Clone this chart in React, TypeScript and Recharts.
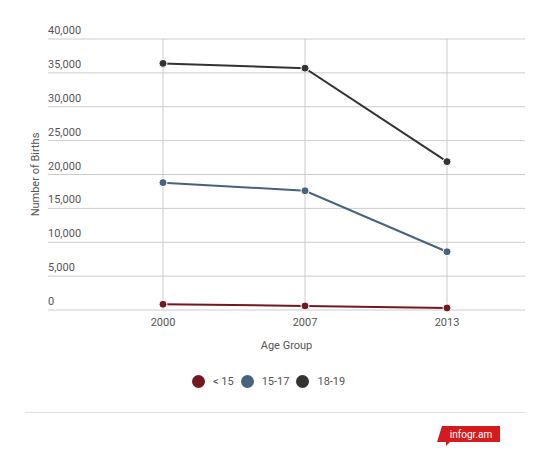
import React from 'react';
import { LineChart, Line, XAxis, YAxis, CartesianGrid, ReferenceLine } from 'recharts';

const years = ['2000', '2007', '2013'];
const under15 = [850, 600, 300];
const age15to17 = [18800, 17600, 8600];
const age18to19 = [36400, 35700, 21900];
const yTicks = [0, 5000, 10000, 15000, 20000, 25000, 30000, 35000, 40000];

const seriesInfo = [
  { key: 'under15', name: '< 15', color: '#731820' },
  { key: 'age15to17', name: '15-17', color: '#46627f' },
  { key: 'age18to19', name: '18-19', color: '#333333' },
];

const data = years.map((year, i) => ({
  year,
  under15: under15[i],
  age15to17: age15to17[i],
  age18to19: age18to19[i],
}));

const FONT = 'Roboto, "Open Sans", sans-serif';
const PLOT_LEFT = 48;

const YTick = ({ y, payload }: any) => (
  <text x={PLOT_LEFT} y={y - 5} textAnchor="start" fontSize={11} fill="#555" fontFamily={FONT}>
    {payload.value === 0 ? '0' : payload.value.toLocaleString('en-US')}
  </text>
);

const YLabel = ({ viewBox }: any) => {
  const cx = viewBox.x + 35;
  const cy = viewBox.y + viewBox.height / 2;
  return (
    <text x={cx} y={cy} transform={`rotate(-90, ${cx}, ${cy})`} textAnchor="middle" dominantBaseline="central"
      fontSize={11} fill="#555" fontFamily={FONT}>
      Number of Births
    </text>
  );
};

const App = () => (
  <div style={{ position: 'absolute', left: 0, top: 0, width: 550, height: 465, background: '#fff', fontFamily: FONT }}>
    <LineChart width={550} height={360} data={data} margin={{ top: 39, right: 25, bottom: 5, left: 0 }}>
      <CartesianGrid stroke="#cccccc" strokeWidth={1} vertical={false} />
      <XAxis
        dataKey="year"
        axisLine={false}
        tickLine={false}
        height={45}
        padding={{ left: 115, right: 78 }}
        tick={{ fontSize: 11, fill: '#555', fontFamily: FONT }}
        label={{ value: 'Age Group', position: 'insideBottom', offset: 6, fontSize: 11, fill: '#555', fontFamily: FONT }}
      />
      <YAxis
        width={PLOT_LEFT}
        domain={[0, 40000]}
        ticks={yTicks}
        axisLine={false}
        tickLine={false}
        tick={<YTick />}
        label={<YLabel />}
      />
      {years.map(y => (
        <ReferenceLine key={y} x={y} stroke="#cccccc" strokeWidth={1} />
      ))}
      {seriesInfo.map(s => (
        <Line
          key={s.key}
          type="linear"
          dataKey={s.key}
          name={s.name}
          stroke={s.color}
          strokeWidth={2}
          dot={{ r: 4, fill: s.color, stroke: '#fff', strokeWidth: 1 }}
          isAnimationActive={false}
        />
      ))}
    </LineChart>
    <div style={{ position: 'absolute', left: 192, top: 375, display: 'flex', alignItems: 'center', fontSize: 11, color: '#555' }}>
      {seriesInfo.map(s => (
        <div key={s.key} style={{ display: 'flex', alignItems: 'center', marginRight: 7 }}>
          <span style={{ width: 13, height: 13, borderRadius: '50%', background: s.color, display: 'inline-block', marginRight: 8 }} />
          <span>{s.name}</span>
        </div>
      ))}
    </div>
    <div style={{ position: 'absolute', left: 25, top: 412, width: 500, height: 1, background: '#dddddd' }} />
    <svg style={{ position: 'absolute', left: 434, top: 424 }} width={70} height={24}>
      <polygon points="8,2 66,2 66,18 16,18 12,22 12,18 3,18" fill="#d41c1f" />
      <text x={37} y={13.5} textAnchor="middle" fontSize={10} fill="#fff" fontFamily={FONT}>infogr.am</text>
    </svg>
  </div>
);

export default App;
